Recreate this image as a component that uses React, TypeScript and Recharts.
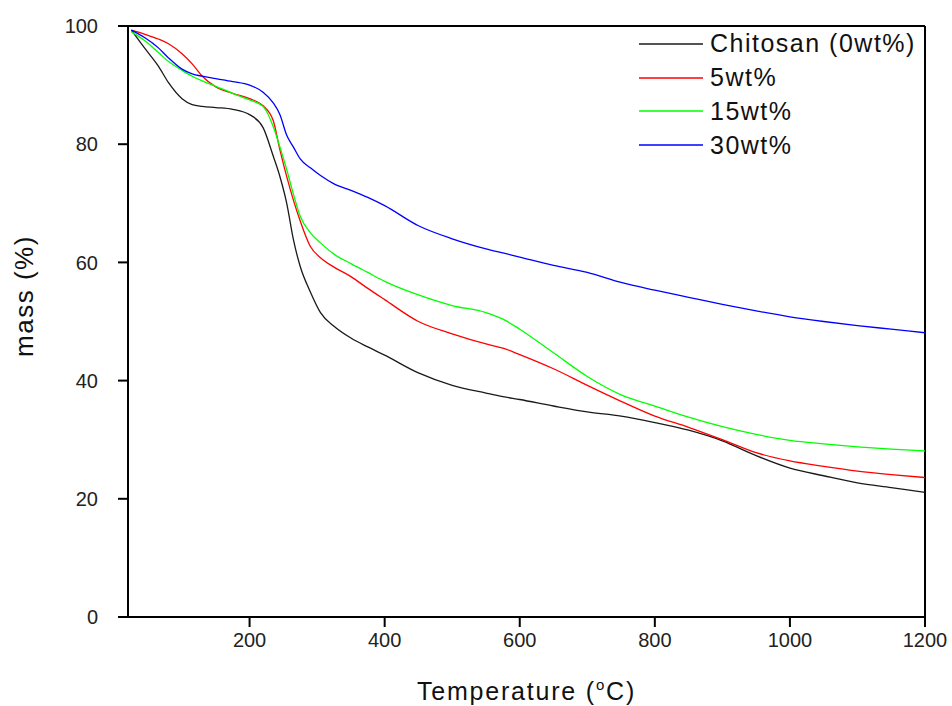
import { LineChart, Line, XAxis, YAxis, ReferenceLine, Legend, Label } from "recharts";

// temperature (°C) sample points
const temps = [
  25, 45, 65, 80, 100, 115, 130, 150, 175, 200, 220, 235, 245, 255, 265, 275, 290, 305, 325, 350, 375, 400,
  450, 500, 550, 575, 600, 650, 700, 750, 800, 850, 900, 950, 1000, 1050, 1100, 1150, 1200,
];

const chitosan = [
  99.3, 96.2, 93.2, 90.4, 87.7, 86.7, 86.4, 86.2, 85.9, 85, 82.8, 78, 74.5, 70, 63.8, 59.3, 55, 51.5, 49.2, 47.2,
  45.7, 44.3, 41.3, 39.2, 37.9, 37.3, 36.8, 35.7, 34.7, 34, 32.9, 31.6, 29.8, 27.3, 25.2, 23.9, 22.7, 21.9, 21.1,
];

const wt5 = [
  99.3, 98.6, 97.8, 97, 95.3, 93.6, 91.5, 89.7, 88.6, 87.7, 86.5, 84, 79, 74.5, 70.5, 67, 62.7, 60.8, 59.2, 57.6,
  55.6, 53.7, 50, 47.9, 46.2, 45.5, 44.4, 42, 39.2, 36.5, 34, 32.1, 30, 27.8, 26.4, 25.5, 24.7, 24.1, 23.6,
];

const wt15 = [
  99, 97.5, 95.5, 94, 92.5, 91.5, 90.7, 89.8, 88.6, 87.5, 86.4, 83, 79.5, 75.7, 71.5, 67.8, 65, 63.3, 61.4, 59.8,
  58.3, 56.8, 54.5, 52.7, 51.5, 50.4, 48.7, 44.7, 40.7, 37.6, 35.7, 33.8, 32.2, 30.9, 29.9, 29.3, 28.8, 28.4, 28.1,
];

const wt30 = [
  99.3, 98, 96.3, 94.6, 92.7, 91.9, 91.5, 91.1, 90.6, 90, 88.8, 87, 85, 81.5, 79.5, 77.5, 76, 74.7, 73.3, 72.2,
  71.0, 69.6, 66.2, 64, 62.3, 61.6, 60.9, 59.5, 58.3, 56.6, 55.3, 54.1, 52.9, 51.8, 50.8, 50, 49.3, 48.7, 48.1,
];

const xTicks = [200, 400, 600, 800, 1000, 1200];
const yTicks = [0, 20, 40, 60, 80, 100];

const series = [
  { key: "chitosan", name: "Chitosan (0wt%)", color: "#1a1a1a" },
  { key: "wt5", name: "5wt%", color: "#ff0000" },
  { key: "wt15", name: "15wt%", color: "#00ff00" },
  { key: "wt30", name: "30wt%", color: "#0000ff" },
];

const data = temps.map((t, i) => ({
  t,
  chitosan: chitosan[i],
  wt5: wt5[i],
  wt15: wt15[i],
  wt30: wt30[i],
}));

const font = "'Liberation Sans', Arial, sans-serif";
const tickStyle = { fontSize: 20, fill: "#222", fontFamily: font };

function LegendBox() {
  return (
    <div style={{ fontFamily: font, fontSize: 25, letterSpacing: 1.5, color: "#111" }}>
      {series.map((s) => (
        <div key={s.key} style={{ display: "flex", alignItems: "center", height: 33.8 }}>
          <svg width={64} height={4} style={{ marginRight: 7 }}>
            <line x1={0} y1={2} x2={64} y2={2} stroke={s.color} strokeWidth={1.3} />
          </svg>
          <span>{s.name}</span>
        </div>
      ))}
    </div>
  );
}

export default function App() {
  return (
    <div style={{ position: "absolute", left: 0, top: 0, background: "#fff" }}>
      <LineChart width={952} height={706} data={data} margin={{ top: 26, right: 27, left: 0, bottom: 0 }}>
        <XAxis
          dataKey="t"
          type="number"
          domain={[20, 1200]}
          ticks={xTicks}
          height={89}
          tickSize={10}
          tickMargin={6}
          tick={tickStyle}
          axisLine={{ stroke: "#000", strokeWidth: 2 }}
          tickLine={{ stroke: "#000", strokeWidth: 2 }}
        >
          <Label
            content={({ viewBox }: any) => (
              <text
                x={viewBox.x + viewBox.width / 2}
                y={700}
                textAnchor="middle"
                fontSize={25}
                letterSpacing={1.8}
                fontFamily={font}
                fill="#111"
              >
                Temperature (
                <tspan dy={-10} fontSize={15}>
                  o
                </tspan>
                <tspan dy={10}>C)</tspan>
              </text>
            )}
          />
        </XAxis>
        <YAxis
          type="number"
          domain={[0, 100]}
          ticks={yTicks}
          width={128}
          tickSize={10}
          tickMargin={20}
          tick={tickStyle}
          axisLine={{ stroke: "#000", strokeWidth: 2 }}
          tickLine={{ stroke: "#000", strokeWidth: 2 }}
        >
          <Label
            content={() => (
              <text
                x={33}
                y={296}
                transform="rotate(-90 33 296)"
                textAnchor="middle"
                fontSize={26}
                letterSpacing={1.5}
                fontFamily={font}
                fill="#111"
              >
                mass (%)
              </text>
            )}
          />
        </YAxis>
        <ReferenceLine y={100} stroke="#000" strokeWidth={2} />
        <ReferenceLine x={1200} stroke="#000" strokeWidth={2} />
        {series.map((s) => (
          <Line
            key={s.key}
            type="monotone"
            dataKey={s.key}
            name={s.name}
            stroke={s.color}
            strokeWidth={1.3}
            dot={false}
            isAnimationActive={false}
          />
        ))}
        <Legend
          layout="vertical"
          align="center"
          verticalAlign="middle"
          wrapperStyle={{ top: 27, left: 639, width: 310 }}
          content={() => <LegendBox />}
        />
      </LineChart>
    </div>
  );
}
